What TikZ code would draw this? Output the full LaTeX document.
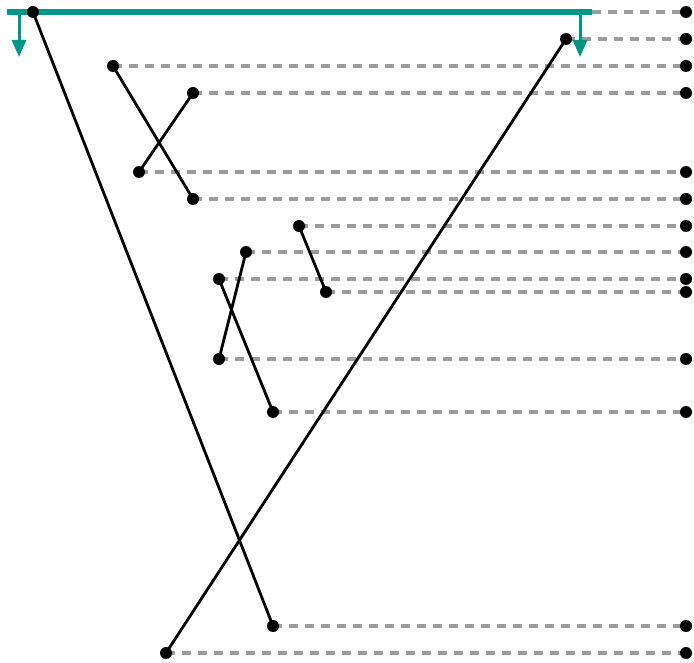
\documentclass[tikz,border=0pt]{standalone}
\usetikzlibrary{arrows.meta}
\definecolor{teal1}{RGB}{0,150,136}
\definecolor{dashgray}{RGB}{155,155,155}
\begin{document}
\begin{tikzpicture}[x=1pt,y=-1pt,
  dot/.style={circle,fill=black,inner sep=0pt,minimum size=12pt},
  link/.style={line width=2.8pt,black},
  guide/.style={line width=3.2pt,dashgray,dash pattern=on 9pt off 7pt},
  bar/.style={line width=5.5pt,teal1},
  drop/.style={line width=3pt,teal1,-{Triangle[length=17pt,width=14pt]}}]
\useasboundingbox (0,0) rectangle (694,663);
% left points
\coordinate (a) at (33,12);
\coordinate (b) at (566,39);
\coordinate (c) at (113,66);
\coordinate (d) at (193,93);
\coordinate (e) at (139,172);
\coordinate (f) at (193,199);
\coordinate (g) at (299,226);
\coordinate (h) at (246,252);
\coordinate (i) at (219,279);
\coordinate (j) at (326,292);
\coordinate (k) at (219,359);
\coordinate (l) at (273,412);
\coordinate (m) at (273,626);
\coordinate (n) at (166,653);
\coordinate (barL) at (7,12);
\coordinate (barR) at (592,12);
% right column
\coordinate (ra) at (686,12);
\coordinate (rb) at (686,39);
\coordinate (rc) at (686,66);
\coordinate (rd) at (686,93);
\coordinate (re) at (686,172);
\coordinate (rf) at (686,199);
\coordinate (rg) at (686,226);
\coordinate (rh) at (686,252);
\coordinate (ri) at (686,279);
\coordinate (rj) at (686,292);
\coordinate (rk) at (686,359);
\coordinate (rl) at (686,412);
\coordinate (rm) at (686,626);
\coordinate (rn) at (686,653);
% dashed guides
\draw[guide] (barR) -- (ra);
\foreach \p in {b,c,d,e,f,g,h,i,j,k,l,m,n}{\draw[guide] (\p) -- (r\p);}
% links
\draw[link] (a) -- (m);
\draw[link] (b) -- (n);
\draw[link] (c) -- (f);
\draw[link] (d) -- (e);
\draw[link] (g) -- (j);
\draw[link] (h) -- (k);
\draw[link] (i) -- (l);
% teal bar and arrows
\draw[bar] (barL) -- (barR);
\coordinate (dl0) at (19,12);
\coordinate (dl1) at (19,57);
\coordinate (dr0) at (580,12);
\coordinate (dr1) at (580,57);
\draw[drop] (dl0) -- (dl1);
\draw[drop] (dr0) -- (dr1);
% dots
\foreach \p in {a,b,c,d,e,f,g,h,i,j,k,l,m,n,ra,rb,rc,rd,re,rf,rg,rh,ri,rj,rk,rl,rm,rn}{\node[dot] (dot\p) at (\p) {};}
\end{tikzpicture}
\end{document}
